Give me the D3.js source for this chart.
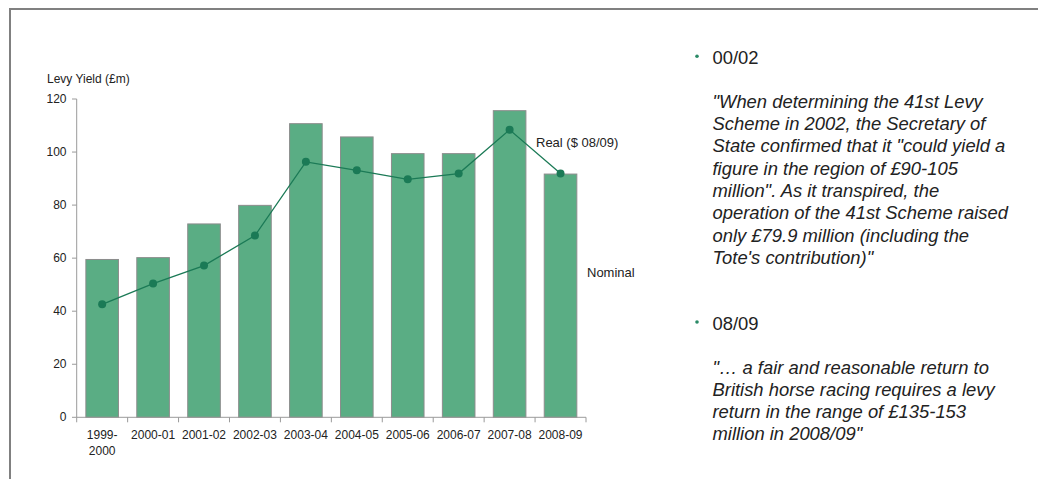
<!DOCTYPE html>
<html><head><meta charset="utf-8">
<script src="https://cdn.jsdelivr.net/npm/d3@7"></script>
<style>body{margin:0;background:#fff}svg{display:block;font-family:Arial,"Liberation Sans",sans-serif}</style>
</head><body>
<svg id="c" width="1038" height="479"></svg>
<script>
const categories = ["1999-2000","2000-01","2001-02","2002-03","2003-04","2004-05","2005-06","2006-07","2007-08","2008-09"];
const nominal = [59.5, 60.2, 72.9, 79.9, 110.7, 105.7, 99.4, 99.4, 115.6, 91.7];
const real = [42.6, 50.4, 57.2, 68.5, 96.3, 93.1, 89.7, 91.9, 108.4, 91.9];
const yTicks = [0, 20, 40, 60, 80, 100, 120];
const axisTitle = "Levy Yield (£m)";
const seriesLabels = ["Real ($ 08/09)", "Nominal"];
const notes = [
  {head: "00/02", lines: ["\"When determining the 41st Levy", "Scheme in 2002, the Secretary of", "State confirmed that it \"could yield a", "figure in the region of £90-105", "million\". As it transpired, the", "operation of the 41st Scheme raised", "only £79.9 million (including the", "Tote's contribution)\""]},
  {head: "08/09", lines: ["\"… a fair and reasonable return to", "British horse racing requires a levy", "return in the range of £135-153", "million in 2008/09\""]}
];

const svg = d3.select("#c");
svg.append("path").attr("d","M10,479V9H1038").attr("fill","none").attr("stroke","#808080").attr("stroke-width",2);

const x = d3.scaleBand().domain(categories).range([76.7, 586]).paddingInner(0.36).paddingOuter(0.18);
const y = d3.scaleLinear().domain([0,120]).range([417.3, 99]);
const axisCol = "#9a9a9a";
const step = x.step();

// y axis
svg.append("line").attr("x1",76.7).attr("x2",76.7).attr("y1",y(120)).attr("y2",y(0)).attr("stroke",axisCol);
yTicks.forEach(t=>{
  svg.append("line").attr("x1",72).attr("x2",76.7).attr("y1",y(t)).attr("y2",y(t)).attr("stroke",axisCol);
  svg.append("text").attr("x",66.5).attr("y",y(t)+4).attr("text-anchor","end").attr("font-size",12).attr("fill","#222").text(t);
});
svg.append("text").attr("x",47).attr("y",83).attr("font-size",12).attr("fill","#222").text(axisTitle);

// bars
svg.selectAll("rect.bar").data(categories).enter().append("rect")
  .attr("x",d=>x(d)).attr("width",x.bandwidth())
  .attr("y",(d,i)=>y(nominal[i])).attr("height",(d,i)=>y(0)-y(nominal[i]))
  .attr("fill","#5aad84").attr("stroke","#8c8c8c").attr("stroke-width",1);

// x axis
svg.append("line").attr("x1",76.7).attr("x2",586).attr("y1",y(0)).attr("y2",y(0)).attr("stroke",axisCol);
for(let i=0;i<=categories.length;i++){
  const tx = 76.7 + i*step;
  svg.append("line").attr("x1",tx).attr("x2",tx).attr("y1",y(0)).attr("y2",y(0)+5).attr("stroke",axisCol);
}
categories.forEach(c=>{
  const cx = x(c)+x.bandwidth()/2;
  const parts = c==="1999-2000" ? ["1999-","2000"] : [c];
  parts.forEach((p,j)=>{
    svg.append("text").attr("x",cx).attr("y",439+j*16).attr("text-anchor","middle").attr("font-size",12).attr("fill","#222").text(p);
  });
});

// real line
const lineCol = "#1b7a56";
const line = d3.line().x((d,i)=>x(categories[i])+x.bandwidth()/2).y(d=>y(d));
svg.append("path").attr("d",line(real)).attr("fill","none").attr("stroke",lineCol).attr("stroke-width",1.3);
svg.selectAll("circle.pt").data(real).enter().append("circle")
  .attr("cx",(d,i)=>x(categories[i])+x.bandwidth()/2).attr("cy",d=>y(d)).attr("r",4).attr("fill",lineCol);

svg.append("text").attr("x",536).attr("y",147).attr("font-size",13).attr("fill","#222").text(seriesLabels[0]);
svg.append("text").attr("x",587).attr("y",277).attr("font-size",13).attr("fill","#222").text(seriesLabels[1]);

// notes
const noteTops = [63.8, 329.5];
notes.forEach((n,k)=>{
  const by = noteTops[k];
  svg.append("circle").attr("cx",697).attr("cy",by-7.5).attr("r",1.8).attr("fill","#2a8a66");
  svg.append("text").attr("x",712.5).attr("y",by).attr("font-size",18.4).attr("fill","#222").text(n.head);
  n.lines.forEach((l,j)=>{
    svg.append("text").attr("x",712.5).attr("y",by+44+j*22.3).attr("font-size",18.4).attr("font-style","italic").attr("fill","#222").text(l);
  });
});
</script>
</body></html>
